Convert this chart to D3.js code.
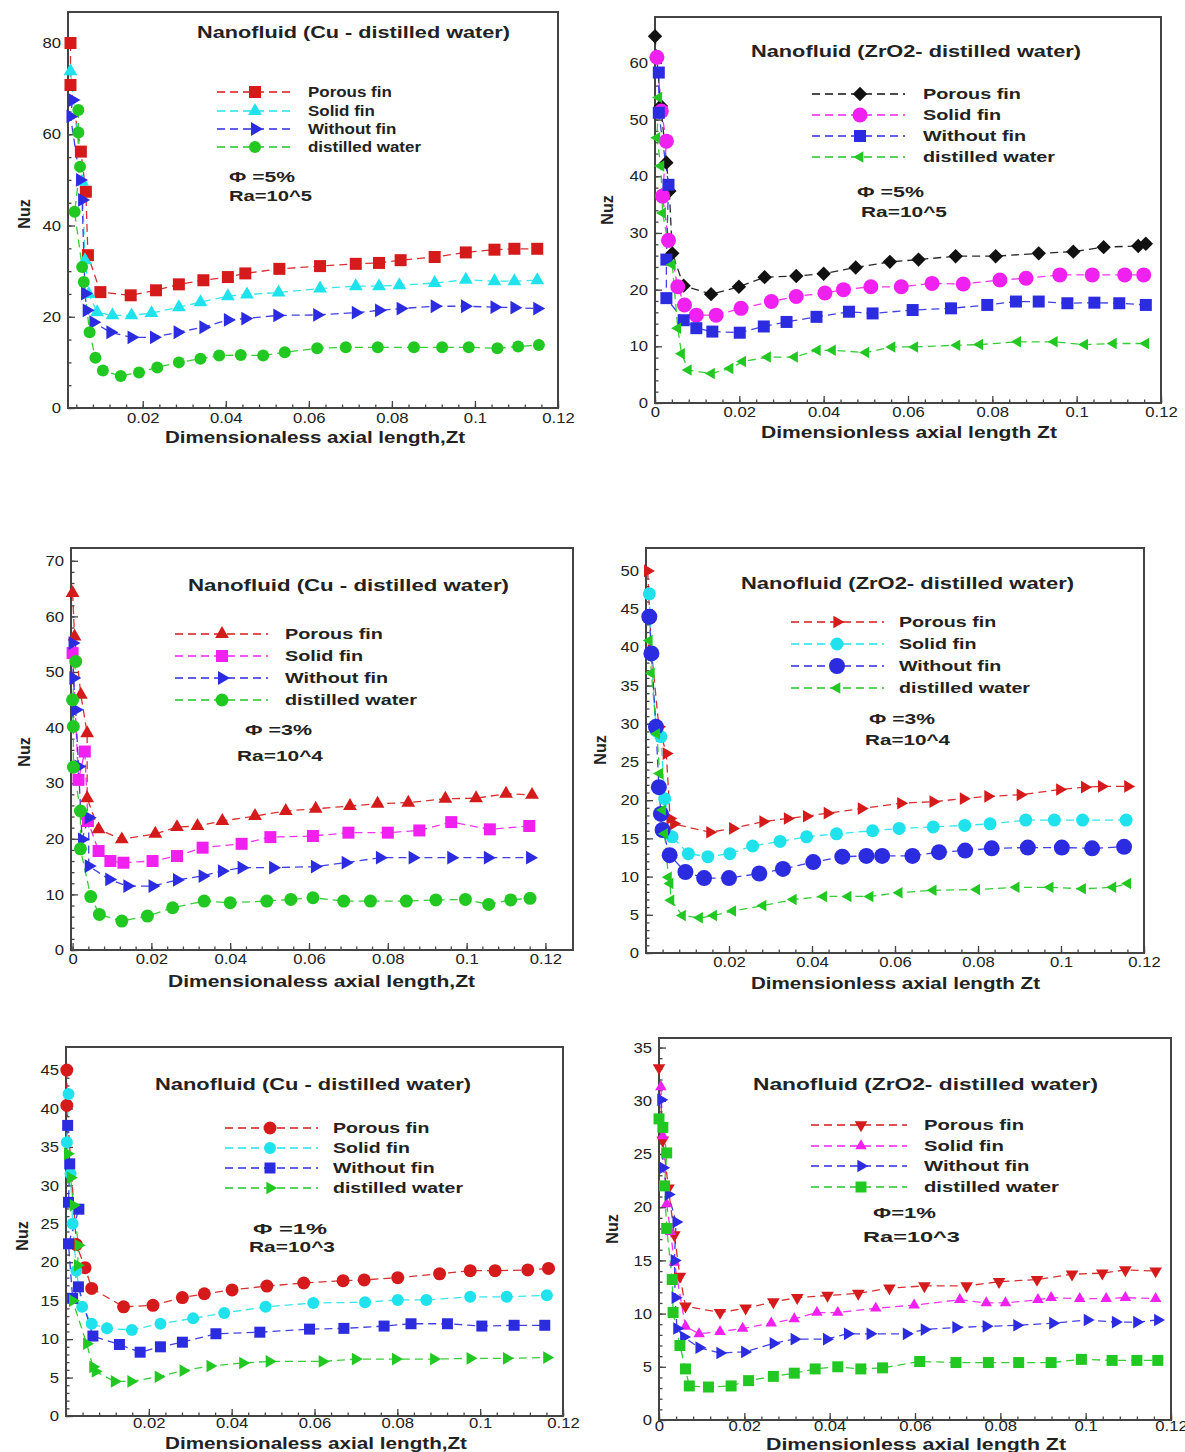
<!DOCTYPE html>
<html>
<head>
<meta charset="utf-8">
<script src="https://cdn.jsdelivr.net/npm/d3@7"></script>
<style>
  html, body { margin: 0; padding: 0; background: #fff; }
  svg text { font-family: "Liberation Sans", Arial, sans-serif; }
</style>
</head>
<body>
<svg id="fig" width="1185" height="1452"></svg>
<script>
// Local Nusselt number Nuz along the dimensionless axial length Zt.
// Each series is a list of [Zt, Nuz] pairs.

// Cu - distilled water, phi = 5 %, Ra = 10^5
const cu5Porous = [[0.0026,80],[0.0026,70.8],[0.0051,56.2],[0.0063,47.4],[0.0068,33.5],[0.0098,25.4],[0.0171,24.7],[0.0232,25.8],[0.0287,27.1],[0.0346,28.0],[0.0405,28.7],[0.0447,29.5],[0.0529,30.5],[0.0627,31.1],[0.0713,31.6],[0.0769,31.8],[0.0821,32.4],[0.0903,33.1],[0.0978,34.1],[0.1047,34.7],[0.1095,34.9],[0.1150,34.9]];
const cu5Solid = [[0.0026,73.8],[0.0054,49.6],[0.0061,32.4],[0.0070,25.0],[0.0090,21.0],[0.0127,20.3],[0.0173,20.3],[0.0221,20.8],[0.0287,22.1],[0.0339,23.2],[0.0405,24.5],[0.0451,24.9],[0.0527,25.3],[0.0627,26.2],[0.0713,26.7],[0.0769,26.7],[0.0818,26.9],[0.0903,27.4],[0.0978,28.1],[0.1047,27.8],[0.1095,27.8],[0.1150,28.0]];
const cu5Without = [[0.0031,67.5],[0.0026,63.9],[0.0049,50.0],[0.0054,45.6],[0.0061,25.1],[0.0065,21.4],[0.0081,18.8],[0.0122,16.6],[0.0173,15.5],[0.0227,15.5],[0.0284,16.6],[0.0346,17.7],[0.0405,19.3],[0.0447,19.6],[0.0524,20.3],[0.0620,20.4],[0.0713,20.9],[0.0769,21.4],[0.0821,21.8],[0.0903,22.3],[0.0976,22.3],[0.1047,22.1],[0.1095,22.0],[0.1150,21.8]];
const cu5Water = [[0.0045,65.3],[0.0045,60.4],[0.0049,52.9],[0.0036,43.0],[0.0054,30.9],[0.0058,27.6],[0.0072,16.6],[0.0086,11.0],[0.0104,8.2],[0.0147,7.0],[0.0191,7.8],[0.0235,8.9],[0.0287,10.0],[0.0339,10.8],[0.0384,11.5],[0.0436,11.6],[0.0490,11.5],[0.0542,12.2],[0.0620,13.1],[0.0689,13.3],[0.0766,13.3],[0.0853,13.3],[0.0921,13.3],[0.0985,13.3],[0.1054,13.1],[0.1104,13.5],[0.1154,13.8]];

// ZrO2 - distilled water, phi = 5 %, Ra = 10^5
const zr5Porous = [[0,64.7],[0.0014,52.4],[0.0027,42.4],[0.0034,37.4],[0.0041,26.4],[0.0068,20.7],[0.0133,19.2],[0.0199,20.5],[0.0260,22.2],[0.0335,22.4],[0.0400,22.8],[0.0476,23.9],[0.0557,24.9],[0.0625,25.3],[0.0713,25.9],[0.0808,25.9],[0.0910,26.4],[0.0992,26.7],[0.1064,27.5],[0.1146,27.7],[0.1164,28.1]];
const zr5Solid = [[0.00045,61.0],[0.0015,51.5],[0.0027,46.2],[0.0018,36.5],[0.0032,28.7],[0.0054,20.5],[0.0070,17.3],[0.0098,15.5],[0.0145,15.5],[0.0204,16.7],[0.0276,17.9],[0.0335,18.8],[0.0403,19.4],[0.0447,20.0],[0.0512,20.5],[0.0584,20.5],[0.0657,21.1],[0.0731,21.0],[0.0818,21.7],[0.0880,22.0],[0.0960,22.6],[0.1037,22.6],[0.1114,22.6],[0.1159,22.6]];
const zr5Without = [[0.0009,58.3],[0.0009,51.2],[0.0032,38.5],[0.0027,25.3],[0.0027,18.5],[0.0068,14.6],[0.0098,13.2],[0.0136,12.6],[0.0201,12.4],[0.0258,13.5],[0.0312,14.3],[0.0383,15.2],[0.0460,16.1],[0.0516,15.8],[0.0611,16.4],[0.0702,16.7],[0.0788,17.3],[0.0856,17.9],[0.0910,17.9],[0.0978,17.6],[0.1042,17.7],[0.1101,17.6],[0.1164,17.3]];
const zr5Water = [[0.0009,53.9],[0.00045,46.8],[0.0014,41.8],[0.0018,33.5],[0.0041,24.4],[0.0054,13.2],[0.0063,8.7],[0.0079,5.8],[0.0134,5.2],[0.0178,6.1],[0.0208,7.3],[0.0267,8.1],[0.0331,8.1],[0.0385,9.3],[0.0421,9.3],[0.0500,8.9],[0.0562,9.9],[0.0616,9.9],[0.0716,10.2],[0.0770,10.3],[0.0860,10.8],[0.0947,10.8],[0.1019,10.3],[0.1087,10.5],[0.1164,10.5]];

// Cu - distilled water, phi = 3 %, Ra = 10^4
const cu3Porous = [[0,64.2],[0.0005,56.4],[0.0021,45.9],[0.0037,39.0],[0.0037,27.3],[0.0066,21.7],[0.0125,19.9],[0.0210,20.9],[0.0265,22.1],[0.0317,22.3],[0.0380,23.2],[0.0463,24.1],[0.0541,25.0],[0.0617,25.4],[0.0704,25.9],[0.0774,26.3],[0.0852,26.5],[0.0946,27.2],[0.1024,27.3],[0.1100,28.1],[0.1166,27.9]];
const cu3Solid = [[0,53.4],[0.0015,30.6],[0.0031,35.7],[0.0039,23.2],[0.0066,17.8],[0.0096,16.0],[0.0129,15.7],[0.0203,16.0],[0.0265,16.9],[0.0330,18.4],[0.0429,19.1],[0.0502,20.3],[0.0610,20.5],[0.0700,21.1],[0.0800,21.1],[0.0880,21.5],[0.0961,23.0],[0.1059,21.7],[0.1159,22.3]];
const cu3Without = [[0,55.2],[0.0002,48.9],[0.0008,43.2],[0.0015,33.0],[0.0024,19.9],[0.0041,23.8],[0.0041,15.1],[0.0093,12.7],[0.0139,11.5],[0.0203,11.5],[0.0265,12.6],[0.0330,13.3],[0.0379,14.2],[0.0429,14.8],[0.0509,14.8],[0.0615,15.0],[0.0693,15.7],[0.0780,16.6],[0.0863,16.6],[0.0961,16.6],[0.1054,16.6],[0.1161,16.6]];
const cu3Water = [[0.0008,51.9],[0,45.0],[0.0002,40.2],[0.0002,32.9],[0.0020,25.0],[0.0020,18.2],[0.0046,9.6],[0.0068,6.4],[0.0125,5.2],[0.0190,6.1],[0.0254,7.6],[0.0334,8.8],[0.0400,8.5],[0.0493,8.8],[0.0554,9.1],[0.0610,9.4],[0.0688,8.8],[0.0756,8.8],[0.0847,8.8],[0.0922,9.0],[0.0997,9.1],[0.1056,8.2],[0.1112,9.0],[0.1161,9.3]];

// ZrO2 - distilled water, phi = 3 %, Ra = 10^4
const zr3Porous = [[0.0004,50.0],[0.0013,39.6],[0.0031,29.6],[0.0049,26.1],[0.0058,17.6],[0.0067,16.9],[0.0154,15.8],[0.0209,16.3],[0.0282,17.2],[0.0341,17.6],[0.0387,17.9],[0.0437,18.3],[0.0519,18.9],[0.0614,19.6],[0.0692,19.8],[0.0765,20.2],[0.0824,20.5],[0.0902,20.7],[0.0997,21.4],[0.1057,21.7],[0.1098,21.8],[0.1161,21.8]];
const zr3Solid = [[0.0008,47.0],[0.0013,39.0],[0.0024,29.1],[0.0036,28.3],[0.0045,20.2],[0.0063,15.2],[0.0102,13.0],[0.0149,12.6],[0.0202,13.0],[0.0257,14.0],[0.0323,14.6],[0.0387,15.2],[0.0459,15.6],[0.0546,16.0],[0.0610,16.3],[0.0692,16.5],[0.0768,16.7],[0.0829,16.9],[0.0915,17.4],[0.0984,17.4],[0.1052,17.4],[0.1157,17.4]];
const zr3Without = [[0.0008,44.0],[0.0013,39.2],[0.0024,29.6],[0.0031,21.7],[0.0036,18.2],[0.0040,16.1],[0.0057,12.8],[0.0095,10.6],[0.0140,9.8],[0.0200,9.8],[0.0273,10.4],[0.0330,11.0],[0.0403,11.9],[0.0473,12.6],[0.0531,12.7],[0.0569,12.7],[0.0642,12.7],[0.0706,13.2],[0.0769,13.4],[0.0833,13.7],[0.0920,13.8],[0.1002,13.8],[0.1075,13.7],[0.1152,13.9]];
const zr3Water = [[0.0008,40.9],[0.0013,36.6],[0.0026,28.7],[0.0033,23.5],[0.0040,18.7],[0.0045,15.6],[0.0054,9.9],[0.0058,9.1],[0.0060,6.9],[0.0088,4.9],[0.0129,4.6],[0.0163,4.9],[0.0209,5.5],[0.0282,6.2],[0.0355,7.0],[0.0428,7.4],[0.0487,7.4],[0.0540,7.4],[0.0610,7.9],[0.0692,8.2],[0.0797,8.3],[0.0892,8.6],[0.0974,8.6],[0.1052,8.4],[0.1125,8.6],[0.1161,9.1]];

// Cu - distilled water, phi = 1 %, Ra = 10^3
const cu1Porous = [[0.0002,45.0],[0.0002,40.4],[0.0025,22.3],[0.0046,19.3],[0.0062,16.6],[0.0139,14.2],[0.0210,14.4],[0.0281,15.4],[0.0334,15.9],[0.0401,16.4],[0.0485,16.9],[0.0574,17.3],[0.0669,17.6],[0.0720,17.7],[0.0801,18.0],[0.0902,18.5],[0.0976,18.9],[0.1036,18.9],[0.1115,19.0],[0.1165,19.2]];
const cu1Solid = [[0.0006,41.9],[0.0002,35.6],[0.0011,31.5],[0.0016,25.0],[0.0025,18.9],[0.0039,14.2],[0.0062,12.0],[0.0099,11.4],[0.0159,11.2],[0.0228,12.0],[0.0307,12.7],[0.0382,13.4],[0.0482,14.2],[0.0597,14.7],[0.0722,14.8],[0.0801,15.1],[0.0870,15.1],[0.0976,15.5],[0.1064,15.5],[0.1161,15.7]];
const cu1Without = [[0.0004,37.8],[0.0009,32.8],[0.0006,27.8],[0.0031,26.9],[0.0006,22.4],[0.0016,15.3],[0.0030,16.8],[0.0065,10.4],[0.0129,9.3],[0.0179,8.3],[0.0228,9.0],[0.0281,9.6],[0.0362,10.7],[0.0468,10.9],[0.0588,11.3],[0.0671,11.4],[0.0768,11.7],[0.0833,12.0],[0.0921,12.0],[0.1004,11.7],[0.1082,11.8],[0.1156,11.8]];
const cu1Water = [[0.0004,34.1],[0.0011,31.0],[0.0018,27.4],[0.0030,22.2],[0.0028,19.6],[0.0016,15.0],[0.0050,9.4],[0.0065,6.4],[0.0071,5.8],[0.0117,4.5],[0.0157,4.5],[0.0223,5.1],[0.0283,5.9],[0.0348,6.5],[0.0427,6.9],[0.0491,7.1],[0.0619,7.1],[0.0699,7.4],[0.0796,7.4],[0.0888,7.4],[0.0976,7.5],[0.1064,7.5],[0.1161,7.6]];

// ZrO2 - distilled water, phi = 1 %, Ra = 10^3
const zr1Porous = [[0,33.1],[0.0009,26.3],[0.0022,21.8],[0.0036,17.4],[0.0049,13.5],[0.0062,10.7],[0.0143,10.1],[0.0203,10.5],[0.0268,11.1],[0.0324,11.5],[0.0395,11.7],[0.0467,11.9],[0.0540,12.4],[0.0622,12.6],[0.0721,12.6],[0.0797,13.0],[0.0886,13.2],[0.0968,13.7],[0.1039,13.8],[0.1093,14.1],[0.1164,14.0]];
const zr1Solid = [[0.00045,31.3],[0.0009,26.7],[0.0018,20.3],[0.0027,17.7],[0.0036,14.8],[0.0062,8.8],[0.0094,8.1],[0.0143,8.3],[0.0196,8.6],[0.0263,9.1],[0.0317,9.5],[0.0370,10.1],[0.0419,10.1],[0.0508,10.5],[0.0598,10.8],[0.0705,11.3],[0.0767,11.0],[0.0812,11.0],[0.0888,11.3],[0.0919,11.5],[0.0986,11.4],[0.1048,11.4],[0.1093,11.5],[0.1164,11.4]];
const zr1Without = [[0.00045,30.1],[0.0009,23.7],[0.0022,21.2],[0.0040,18.6],[0.0036,15.0],[0.0038,11.5],[0.0042,8.6],[0.0058,7.8],[0.0094,6.8],[0.0143,6.3],[0.0201,6.4],[0.0268,7.2],[0.0317,7.6],[0.0393,7.6],[0.0442,8.1],[0.0495,8.1],[0.0580,8.1],[0.0622,8.5],[0.0696,8.7],[0.0767,8.8],[0.0839,8.9],[0.0923,9.1],[0.1004,9.4],[0.1070,9.2],[0.1120,9.2],[0.1169,9.4]];
const zr1Water = [[0,28.3],[0.0009,27.5],[0.0018,25.1],[0.0013,22.0],[0.0018,18.0],[0.0031,13.2],[0.0033,10.1],[0.0049,7.0],[0.0062,4.8],[0.0071,3.2],[0.0116,3.1],[0.0169,3.2],[0.0210,3.7],[0.0268,4.1],[0.0317,4.4],[0.0366,4.8],[0.0419,5.0],[0.0473,4.8],[0.0524,4.9],[0.0611,5.5],[0.0696,5.4],[0.0772,5.4],[0.0843,5.4],[0.0919,5.4],[0.0990,5.7],[0.1062,5.6],[0.1120,5.6],[0.1169,5.6]];

// Labels and tick values
const seriesNames = ["Porous fin", "Solid fin", "Without fin", "distilled water"];
const titleCu = "Nanofluid (Cu - distilled water)";
const titleZr = "Nanofluid (ZrO2- distilled water)";
const xTitleCu = "Dimensionaless axial length,Zt";
const xTitleZr = "Dimensionless axial length Zt";
const yTitle = "Nuz";
const xTicksWithZero = [0, 0.02, 0.04, 0.06, 0.08, 0.1, 0.12];
const xTicksNoZero = [0.02, 0.04, 0.06, 0.08, 0.1, 0.12];
const yTicksA = [0, 20, 40, 60, 80];
const yTicksB = [0, 10, 20, 30, 40, 50, 60];
const yTicksC = [0, 10, 20, 30, 40, 50, 60, 70];
const yTicksD = [0, 5, 10, 15, 20, 25, 30, 35, 40, 45, 50];
const yTicksE = [0, 5, 10, 15, 20, 25, 30, 35, 40, 45];
const yTicksF = [0, 5, 10, 15, 20, 25, 30, 35];

// Colours
const RED = "#d41a1a", CYAN = "#20e2ec", BLUE = "#2b2be0", GREEN = "#22c822", MAGENTA = "#f020f0", BLACK = "#111";

// Panel layout
const panels = [
  { left: 68, right: 558, top: 12, bottom: 408, xDomain: [0.002, 0.12], yDomain: [0, 86.8],
    xTicks: xTicksNoZero, yTicks: yTicksA, yMinor: 5, tickPad: 5,
    title: titleCu, titleX: 197, titleY: 32, titleW: 313,
    xTitle: xTitleCu, xTitleX: 165, xTitleY: 437, xTitleW: 300, yTitleX: 24, yTitleY: 214,
    legend: { x1: 217, x2: 291, mx: 255, tx: 308, rows: [92, 111, 129, 147], fs: 14, w: 113 },
    notes: [{ t: "\u03A6 =5%", x: 229, y: 177, w: 66 }, { t: "Ra=10^5", x: 229, y: 196, w: 83 }],
    series: [
      { data: cu5Porous, color: RED, mk: "square", s: 12 },
      { data: cu5Solid, color: CYAN, mk: "triUp", s: 12 },
      { data: cu5Without, color: BLUE, mk: "triRight", s: 12 },
      { data: cu5Water, color: GREEN, mk: "circle", s: 12 } ] },
  { left: 655, right: 1161, top: 17, bottom: 403, xDomain: [0, 0.12], yDomain: [0, 68.1],
    xTicks: xTicksWithZero, yTicks: yTicksB, yMinor: 2, tickPad: 4,
    title: titleZr, titleX: 751, titleY: 51, titleW: 330,
    xTitle: xTitleZr, xTitleX: 761, xTitleY: 432, xTitleW: 296, yTitleX: 607, yTitleY: 210,
    legend: { x1: 812, x2: 905, mx: 860, tx: 923, rows: [94, 115, 136, 157], fs: 15, w: 132 },
    notes: [{ t: "\u03A6 =5%", x: 857, y: 192, w: 67 }, { t: "Ra=10^5", x: 861, y: 212, w: 86 }],
    series: [
      { data: zr5Porous, color: BLACK, mk: "diamond", s: 12 },
      { data: zr5Solid, color: MAGENTA, mk: "circle", s: 15 },
      { data: zr5Without, color: BLUE, mk: "square", s: 12 },
      { data: zr5Water, color: GREEN, mk: "triLeft", s: 10 } ] },
  { left: 71, right: 573, top: 548, bottom: 950, xDomain: [-0.0004, 0.127], yDomain: [0, 72.3],
    xTicks: xTicksWithZero, yTicks: yTicksC, yMinor: 2, tickPad: 4,
    title: titleCu, titleX: 188, titleY: 585, titleW: 321,
    xTitle: xTitleCu, xTitleX: 168, xTitleY: 981, xTitleW: 307, yTitleX: 24, yTitleY: 752,
    legend: { x1: 175, x2: 268, mx: 222, tx: 285, rows: [634, 656, 678, 700], fs: 15, w: 132 },
    notes: [{ t: "\u03A6 =3%", x: 245, y: 730, w: 67 }, { t: "Ra=10^4", x: 237, y: 756, w: 86 }],
    series: [
      { data: cu3Porous, color: RED, mk: "triUp", s: 12 },
      { data: cu3Solid, color: MAGENTA, mk: "square", s: 12 },
      { data: cu3Without, color: BLUE, mk: "triRight", s: 12 },
      { data: cu3Water, color: GREEN, mk: "circle", s: 13 } ] },
  { left: 646, right: 1144, top: 548, bottom: 953, xDomain: [0, 0.12], yDomain: [0, 53],
    xTicks: xTicksNoZero, yTicks: yTicksD, yMinor: 1, tickPad: 4,
    title: titleZr, titleX: 741, titleY: 583, titleW: 333,
    xTitle: xTitleZr, xTitleX: 751, xTitleY: 983, xTitleW: 289, yTitleX: 600, yTitleY: 750,
    legend: { x1: 791, x2: 884, mx: 837, tx: 899, rows: [622, 644, 666, 688], fs: 15, w: 131 },
    notes: [{ t: "\u03A6 =3%", x: 869, y: 719, w: 66 }, { t: "Ra=10^4", x: 865, y: 740, w: 85 }],
    series: [
      { data: zr3Porous, color: RED, mk: "triRight", s: 11 },
      { data: zr3Solid, color: CYAN, mk: "circle", s: 13 },
      { data: zr3Without, color: BLUE, mk: "circle", s: 16 },
      { data: zr3Water, color: GREEN, mk: "triLeft", s: 10 } ] },
  { left: 66, right: 563, top: 1047, bottom: 1416, xDomain: [0, 0.12], yDomain: [0, 48],
    xTicks: xTicksNoZero, yTicks: yTicksE, yMinor: 1, tickPad: 2,
    title: titleCu, titleX: 155, titleY: 1084, titleW: 316,
    xTitle: xTitleCu, xTitleX: 165, xTitleY: 1443, xTitleW: 302, yTitleX: 22, yTitleY: 1236,
    legend: { x1: 225, x2: 318, mx: 270, tx: 333, rows: [1128, 1148, 1168, 1188], fs: 15, w: 130 },
    notes: [{ t: "\u03A6 =1%", x: 253, y: 1229, w: 74 }, { t: "Ra=10^3", x: 249, y: 1247, w: 86 }],
    series: [
      { data: cu1Porous, color: RED, mk: "circle", s: 13 },
      { data: cu1Solid, color: CYAN, mk: "circle", s: 12 },
      { data: cu1Without, color: BLUE, mk: "square", s: 11 },
      { data: cu1Water, color: GREEN, mk: "triRight", s: 11 } ] },
  { left: 659, right: 1171, top: 1038, bottom: 1420, xDomain: [0, 0.12], yDomain: [0, 35.9],
    xTicks: xTicksWithZero, yTicks: yTicksF, yMinor: 1, tickPad: 1,
    title: titleZr, titleX: 753, titleY: 1084, titleW: 345,
    xTitle: xTitleZr, xTitleX: 766, xTitleY: 1444, xTitleW: 300, yTitleX: 612, yTitleY: 1229,
    legend: { x1: 811, x2: 907, mx: 861, tx: 924, rows: [1125, 1146, 1166, 1187], fs: 15, w: 135 },
    notes: [{ t: "\u03A6=1%", x: 873, y: 1213, w: 63 }, { t: "Ra=10^3", x: 863, y: 1237, w: 97 }],
    series: [
      { data: zr1Porous, color: RED, mk: "triDown", s: 11 },
      { data: zr1Solid, color: MAGENTA, mk: "triUp", s: 10 },
      { data: zr1Without, color: BLUE, mk: "triRight", s: 11 },
      { data: zr1Water, color: GREEN, mk: "square", s: 11 } ] }
];

// Marker outlines centred on the origin, s = nominal width in px
function markerPath(kind, s) {
  const p = d3.path();
  if (kind === "circle") {
    p.arc(0, 0, s / 2, 0, 2 * Math.PI);
    return p.toString();
  }
  if (kind === "square") {
    const h = s / 2;
    p.rect(-h, -h, s, s);
    return p.toString();
  }
  if (kind === "diamond") {
    const r = s * 0.6;
    p.moveTo(0, -r); p.lineTo(r, 0); p.lineTo(0, r); p.lineTo(-r, 0); p.closePath();
    return p.toString();
  }
  // triangles: equilateral, pointing up before rotation
  const side = s * 1.15, h = side * Math.sqrt(3) / 2;
  let pts = [[0, -2 * h / 3], [side / 2, h / 3], [-side / 2, h / 3]];
  const ang = { triUp: 0, triRight: 90, triDown: 180, triLeft: -90 }[kind] * Math.PI / 180;
  pts = pts.map(([a, b]) => [a * Math.cos(ang) - b * Math.sin(ang), a * Math.sin(ang) + b * Math.cos(ang)]);
  p.moveTo(pts[0][0], pts[0][1]); p.lineTo(pts[1][0], pts[1][1]); p.lineTo(pts[2][0], pts[2][1]); p.closePath();
  return p.toString();
}

function fitWidth(sel, w) {
  sel.attr("textLength", w).attr("lengthAdjust", "spacingAndGlyphs");
}
function stretch(sel, k) {
  sel.each(function () {
    const w = this.getComputedTextLength();
    this.setAttribute("textLength", w * k);
    this.setAttribute("lengthAdjust", "spacingAndGlyphs");
  });
}

const svg = d3.select("#fig");
svg.append("rect").attr("width", 1185).attr("height", 1452).attr("fill", "#fff");

const DASH = "8,5";
const AXIS_COLOR = "#444";

panels.forEach(p => {
  const g = svg.append("g");
  const x = d3.scaleLinear().domain(p.xDomain).range([p.left, p.right]);
  const y = d3.scaleLinear().domain(p.yDomain).range([p.bottom, p.top]);

  // minor ticks
  const xMinor = d3.range(0, 0.1201, 0.004).filter(v => v >= p.xDomain[0] && v <= p.xDomain[1]);
  const yMax = p.yTicks[p.yTicks.length - 1];
  const yMinor = d3.range(0, yMax + 0.001, p.yMinor);

  g.append("g").attr("transform", `translate(0,${p.bottom})`)
    .call(d3.axisBottom(x).tickValues(xMinor).tickSize(-3.5).tickFormat(""))
    .call(a => a.select(".domain").remove());
  g.append("g").attr("transform", `translate(${p.left},0)`)
    .call(d3.axisLeft(y).tickValues(yMinor).tickSize(-3.5).tickFormat(""))
    .call(a => a.select(".domain").remove());

  // major ticks and labels
  const xa = g.append("g").attr("transform", `translate(0,${p.bottom})`)
    .call(d3.axisBottom(x).tickValues(p.xTicks).tickSize(-7).tickPadding(p.tickPad).tickFormat(d => String(d)))
    .call(a => a.select(".domain").remove());
  const ya = g.append("g").attr("transform", `translate(${p.left},0)`)
    .call(d3.axisLeft(y).tickValues(p.yTicks).tickSize(-7).tickPadding(7).tickFormat(d => String(d)))
    .call(a => a.select(".domain").remove());
  [xa, ya].forEach(a => {
    a.selectAll("text").attr("font-size", 14.5).attr("fill", "#222")
      .attr("font-family", "\"Liberation Sans\", Arial, sans-serif");
    stretch(a.selectAll("text"), 1.15);
  });
  g.selectAll(".tick line").attr("stroke", AXIS_COLOR).attr("stroke-width", 1.3);

  // frame
  g.append("rect").attr("x", p.left).attr("y", p.top)
    .attr("width", p.right - p.left).attr("height", p.bottom - p.top)
    .attr("fill", "none").attr("stroke", AXIS_COLOR).attr("stroke-width", 2);

  // series
  const line = d3.line().x(d => x(d[0])).y(d => y(d[1]));
  p.series.forEach(s => {
    g.append("path").datum(s.data).attr("d", line)
      .attr("fill", "none").attr("stroke", s.color).attr("stroke-width", 1.3)
      .attr("stroke-dasharray", DASH).attr("opacity", 0.9);
  });
  p.series.forEach(s => {
    g.append("g").selectAll("path").data(s.data).join("path")
      .attr("d", markerPath(s.mk, s.s))
      .attr("transform", d => `translate(${x(d[0])},${y(d[1])})`)
      .attr("fill", s.color);
  });

  // legend
  const L = p.legend;
  const lg = g.append("g");
  p.series.forEach((s, i) => {
    const ry = L.rows[i];
    lg.append("line").attr("x1", L.x1).attr("x2", L.x2).attr("y1", ry).attr("y2", ry)
      .attr("stroke", s.color).attr("stroke-width", 1.3).attr("stroke-dasharray", DASH);
    lg.append("path").attr("d", markerPath(s.mk, s.s)).attr("transform", `translate(${L.mx},${ry})`)
      .attr("fill", s.color);
  });
  const lt = lg.selectAll("text.lab").data(seriesNames).join("text").attr("class", "lab")
    .attr("x", L.tx).attr("y", (d, i) => L.rows[i]).attr("dy", "0.36em")
    .attr("font-size", L.fs).attr("font-weight", "bold").attr("fill", "#222").text(d => d);
  const natural = lt.nodes()[3].getComputedTextLength();
  stretch(lt, L.w / natural);

  // parameter notes
  p.notes.forEach(n => {
    g.append("text").attr("x", n.x).attr("y", n.y).attr("dy", "0.36em")
      .attr("font-size", 15).attr("font-weight", "bold").attr("fill", "#222").text(n.t)
      .call(t => fitWidth(t, n.w));
  });

  // titles
  g.append("text").attr("x", p.titleX).attr("y", p.titleY).attr("dy", "0.36em")
    .attr("font-size", 17).attr("font-weight", "bold").attr("fill", "#222").text(p.title)
    .call(t => fitWidth(t, p.titleW));
  g.append("text").attr("x", p.xTitleX).attr("y", p.xTitleY).attr("dy", "0.36em")
    .attr("font-size", 16).attr("font-weight", "bold").attr("fill", "#222").text(p.xTitle)
    .call(t => fitWidth(t, p.xTitleW));
  g.append("text").attr("transform", `translate(${p.yTitleX},${p.yTitleY}) rotate(-90)`)
    .attr("text-anchor", "middle").attr("dy", "0.36em")
    .attr("font-size", 16).attr("font-weight", "bold").attr("fill", "#222").text(yTitle);
});
</script>
</body>
</html>
